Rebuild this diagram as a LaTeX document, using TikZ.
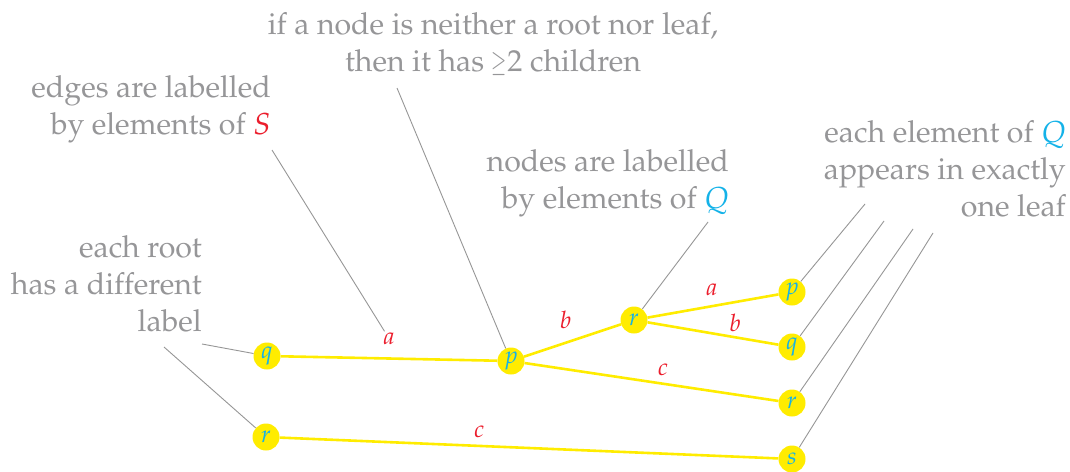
\documentclass[tikz,border=0pt]{standalone}
\usepackage[T1]{fontenc}
\usepackage{mathpazo}
\definecolor{txtgray}{RGB}{150,150,152}
\definecolor{linegray}{RGB}{150,150,150}
\definecolor{treeyellow}{RGB}{255,236,0}
\definecolor{labcyan}{RGB}{20,178,232}
\definecolor{labred}{RGB}{235,30,45}
\begin{document}
\begin{tikzpicture}[x=1pt,y=-1pt,
  vert/.style={circle,fill=treeyellow,minimum size=27pt,inner sep=0pt,text=labcyan,font=\fontsize{24}{28}\selectfont},
  edge/.style={draw=treeyellow,line width=2.6pt},
  elabel/.style={text=labred,inner sep=0pt,font=\fontsize{24}{28}\selectfont},
  note/.style={text=txtgray,inner sep=0pt,font=\fontsize{30.3}{37}\selectfont},
  pointer/.style={draw=linegray,line width=0.9pt}]
\useasboundingbox (0,0) rectangle (1070,471);

% tree nodes
\node[vert] (q1) at (267,356) {$q$};
\node[vert] (r2) at (266,437) {$r$};
\node[vert] (p1) at (511,361) {$p$};
\node[vert] (r1) at (634,320) {$r$};
\node[vert] (lp) at (792,292) {$p$};
\node[vert] (lq) at (792,347) {$q$};
\node[vert] (lr) at (792,403) {$r$};
\node[vert] (ls) at (792,459) {$s$};

% tree edges
\draw[edge] (q1) -- node[elabel,pos=0.5,yshift=20pt] (la) {$a$} (p1);
\draw[edge] (p1) -- node[elabel,pos=0.43,yshift=23pt] (lb) {$b$} (r1);
\draw[edge] (r1) -- node[elabel,pos=0.49,yshift=16pt] (la2) {$a$} (lp);
\draw[edge] (r1) -- node[elabel,pos=0.67,yshift=14pt] (lb2) {$b$} (lq);
\draw[edge] (p1) -- node[elabel,pos=0.545,yshift=14pt] (lc) {$c$} (lr);
\draw[edge] (r2) -- node[elabel,pos=0.40,yshift=14pt] (lc2) {$c$} (ls);

% annotations
\node[note,align=center,anchor=north] (t1) at (493,12) {if a node is neither a root nor leaf,\\then it has \scalebox{0.62}[0.95]{$\geq$}2 children};
\node[note,align=right,anchor=north east] (t2) at (271,75) {edges are labelled\\by elements of {\color{labred}$S$}};
\node[note,align=right,anchor=north east] (t3) at (729,149) {nodes are labelled\\by elements of {\color{labcyan}$Q$}};
\node[note,align=right,anchor=north east] (t4) at (1066,120) {each element of {\color{labcyan}$Q$}\\appears in exactly\\one leaf};
\node[note,align=right,anchor=north east] (t5) at (202,235) {each root\\has a different\\label};

% pointer lines
\coordinate (c1) at (397,88);
\coordinate (c2) at (272,150);
\coordinate (c3) at (708,222);
\coordinate (c4a) at (865,204);
\coordinate (c4b) at (884,221);
\coordinate (c4c) at (913,229);
\coordinate (c4d) at (933,233);
\coordinate (c5a) at (202,344);
\coordinate (c5b) at (164,347);
\draw[pointer] (c1) -- (p1);
\draw[pointer] (c2) -- (la);
\draw[pointer] (c3) -- (r1);
\draw[pointer] (c4a) -- (lp);
\draw[pointer] (c4b) -- (lq);
\draw[pointer] (c4c) -- (lr);
\draw[pointer] (c4d) -- (ls);
\draw[pointer] (c5a) -- (q1);
\draw[pointer] (c5b) -- (r2);
\end{tikzpicture}
\end{document}
